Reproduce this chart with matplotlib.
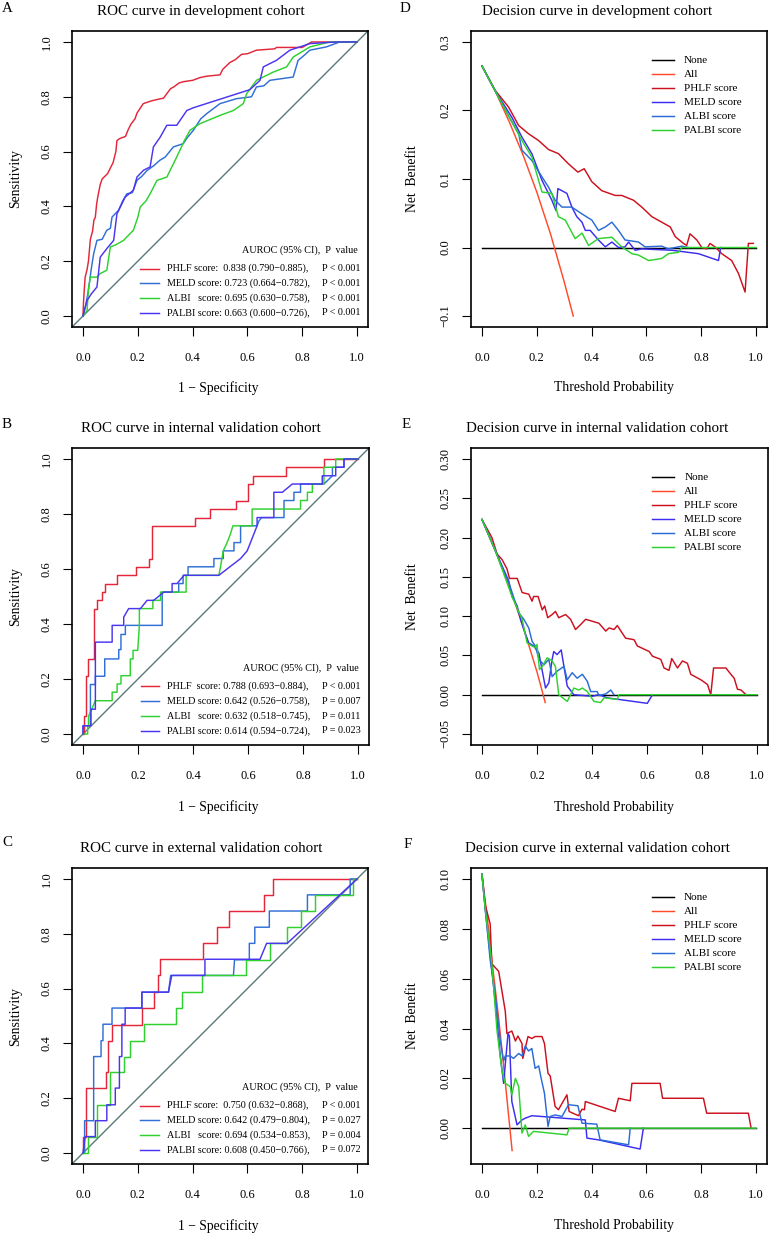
import matplotlib
matplotlib.use('Agg')
import matplotlib.pyplot as plt
from matplotlib.ticker import FuncFormatter

W, H = 770, 1235
plt.rcParams['font.family'] = ['Liberation Serif', 'DejaVu Serif']
plt.rcParams['axes.linewidth'] = 1.2

# ---------------- ROC data (1 - specificity, sensitivity) ----------------
# development cohort
a_phlf_x = [0, 0.002, 0.005, 0.008, 0.01, 0.015, 0.02, 0.027, 0.035, 0.04, 0.045, 0.05, 0.055, 0.063, 0.07, 0.08,
            0.09, 0.1, 0.11, 0.115, 0.12, 0.124, 0.13, 0.14, 0.155, 0.165, 0.175, 0.19, 0.197, 0.21, 0.22, 0.235,
            0.25, 0.27, 0.294, 0.305, 0.32, 0.33, 0.35, 0.366, 0.4, 0.427, 0.45, 0.5, 0.51, 0.536, 0.555, 0.579,
            0.6, 0.633, 0.7, 0.706, 0.8, 0.834, 1.0]
a_phlf_y = [0, 0.05, 0.1, 0.142, 0.15, 0.17, 0.2, 0.28, 0.31, 0.35, 0.36, 0.41, 0.44, 0.48, 0.5, 0.51,
            0.52, 0.54, 0.56, 0.58, 0.6, 0.64, 0.645, 0.65, 0.655, 0.68, 0.7, 0.72, 0.74, 0.76, 0.775, 0.78,
            0.785, 0.79, 0.795, 0.81, 0.83, 0.835, 0.85, 0.855, 0.86, 0.87, 0.875, 0.88, 0.9, 0.925, 0.935, 0.955,
            0.957, 0.97, 0.975, 0.98, 0.98, 1.0, 1.0]
a_meld_x = [0, 0.01, 0.02, 0.03, 0.039, 0.051, 0.07, 0.087, 0.1, 0.106, 0.13, 0.145, 0.16, 0.18, 0.197, 0.215,
            0.233, 0.26, 0.28, 0.3, 0.33, 0.366, 0.38, 0.403, 0.43, 0.451, 0.48, 0.5, 0.56, 0.615, 0.633, 0.66,
            0.682, 0.767, 0.785, 0.8, 0.828, 0.888, 0.937, 1.0]
a_meld_y = [0, 0.04, 0.094, 0.17, 0.227, 0.276, 0.28, 0.313, 0.32, 0.361, 0.386, 0.42, 0.446, 0.45, 0.495, 0.51,
            0.53, 0.55, 0.568, 0.58, 0.617, 0.629, 0.65, 0.678, 0.72, 0.738, 0.76, 0.775, 0.793, 0.8, 0.836, 0.84,
            0.86, 0.872, 0.933, 0.945, 0.97, 0.982, 1.0, 1.0]
a_albi_x = [0, 0.015, 0.02, 0.027, 0.051, 0.063, 0.087, 0.095, 0.1, 0.12, 0.148, 0.184, 0.2, 0.209, 0.23, 0.245,
            0.27, 0.306, 0.342, 0.37, 0.391, 0.427, 0.5, 0.549, 0.585, 0.597, 0.633, 0.694, 0.743, 0.767, 0.828,
            0.9, 1.0]
a_albi_y = [0, 0.02, 0.1, 0.142, 0.142, 0.155, 0.167, 0.22, 0.252, 0.26, 0.276, 0.313, 0.36, 0.398, 0.42, 0.446,
            0.495, 0.507, 0.58, 0.64, 0.678, 0.702, 0.732, 0.75, 0.775, 0.811, 0.86, 0.89, 0.909, 0.945, 0.982,
            1.0, 1.0]
a_palbi_x = [0, 0.015, 0.03, 0.051, 0.063, 0.087, 0.112, 0.124, 0.154, 0.184, 0.197, 0.221, 0.245, 0.257, 0.282,
             0.306, 0.342, 0.379, 0.403, 0.609, 0.646, 0.658, 0.706, 0.755, 0.828, 0.925, 1.0]
a_palbi_y = [0, 0.057, 0.08, 0.106, 0.215, 0.246, 0.276, 0.373, 0.434, 0.459, 0.507, 0.532, 0.544, 0.617, 0.653,
             0.696, 0.696, 0.75, 0.76, 0.826, 0.86, 0.909, 0.933, 0.97, 0.994, 1.0, 1.0]

# internal validation cohort
b_phlf_x = [0, 0.002, 0.002, 0.011, 0.011, 0.018, 0.018, 0.039, 0.039, 0.051, 0.051, 0.069, 0.069, 0.081, 0.081,
            0.124, 0.124, 0.193, 0.193, 0.241, 0.241, 0.251, 0.251, 0.409, 0.409, 0.461, 0.461, 0.558, 0.558, 0.601,
            0.601, 0.618, 0.618, 0.739, 0.739, 0.876, 0.876, 1.0]
b_phlf_y = [0, 0, 0.064, 0.064, 0.21, 0.21, 0.273, 0.273, 0.456, 0.456, 0.486, 0.486, 0.516, 0.516, 0.547,
            0.547, 0.577, 0.577, 0.608, 0.608, 0.635, 0.635, 0.758, 0.758, 0.787, 0.787, 0.82, 0.82, 0.849, 0.849,
            0.909, 0.909, 0.939, 0.939, 0.97, 0.97, 1.0, 1.0]
b_meld_x = [0, 0, 0.027, 0.027, 0.045, 0.045, 0.079, 0.079, 0.13, 0.13, 0.138, 0.138, 0.154, 0.154, 0.288, 0.288,
            0.348, 0.348, 0.364, 0.364, 0.382, 0.382, 0.476, 0.476, 0.51, 0.51, 0.549, 0.549, 0.573, 0.573, 0.633,
            0.64, 0.649, 0.731, 0.731, 0.767, 0.767, 0.791, 0.791, 0.876, 0.907, 0.907, 0.949, 0.949, 1.0]
b_meld_y = [0, 0.03, 0.03, 0.18, 0.18, 0.21, 0.21, 0.273, 0.273, 0.307, 0.307, 0.362, 0.362, 0.395, 0.395, 0.516,
            0.516, 0.547, 0.547, 0.577, 0.577, 0.608, 0.608, 0.638, 0.638, 0.666, 0.666, 0.696, 0.696, 0.757, 0.757,
            0.775, 0.787, 0.787, 0.849, 0.849, 0.879, 0.879, 0.909, 0.909, 0.939, 0.97, 0.97, 1.0, 1.0]
b_albi_x = [0, 0.017, 0.017, 0.02, 0.02, 0.045, 0.106, 0.106, 0.124, 0.124, 0.138, 0.138, 0.172, 0.172, 0.182,
            0.182, 0.199, 0.205, 0.205, 0.254, 0.254, 0.282, 0.282, 0.375, 0.375, 0.494, 0.5, 0.51, 0.524, 0.536,
            0.545, 0.615, 0.615, 0.791, 0.791, 0.816, 0.816, 0.834, 0.834, 0.876, 0.876, 0.919, 0.919, 1.0]
b_albi_y = [0, 0, 0.03, 0.03, 0.064, 0.121, 0.121, 0.152, 0.152, 0.182, 0.182, 0.212, 0.212, 0.273, 0.273,
            0.304, 0.304, 0.395, 0.456, 0.456, 0.486, 0.486, 0.516, 0.516, 0.577, 0.577, 0.608, 0.666, 0.696, 0.727,
            0.757, 0.757, 0.818, 0.818, 0.849, 0.849, 0.879, 0.879, 0.909, 0.909, 0.97, 0.97, 1.0, 1.0]
b_palbi_x = [0, 0, 0.029, 0.029, 0.045, 0.045, 0.106, 0.106, 0.148, 0.148, 0.166, 0.209, 0.233, 0.257, 0.294,
             0.324, 0.324, 0.342, 0.367, 0.494, 0.573, 0.597, 0.609, 0.633, 0.633, 0.694, 0.694, 0.725, 0.761, 0.87,
             0.87, 0.919, 0.919, 0.949, 0.949, 1.0]
b_palbi_y = [0, 0.03, 0.03, 0.09, 0.09, 0.334, 0.334, 0.395, 0.395, 0.425, 0.456, 0.456, 0.486, 0.486, 0.516,
             0.516, 0.547, 0.547, 0.577, 0.577, 0.638, 0.666, 0.696, 0.757, 0.787, 0.787, 0.879, 0.879, 0.909, 0.909,
             0.939, 0.939, 0.97, 0.97, 1.0, 1.0]

# external validation cohort
c_phlf_x = [0, 0, 0.012, 0.012, 0.085, 0.085, 0.093, 0.093, 0.106, 0.106, 0.215, 0.215, 0.26, 0.26, 0.272, 0.272,
            0.282, 0.282, 0.439, 0.439, 0.488, 0.488, 0.534, 0.534, 0.66, 0.66, 0.694, 0.694, 1.0]
c_phlf_y = [0, 0.06, 0.06, 0.237, 0.237, 0.295, 0.295, 0.41, 0.41, 0.468, 0.468, 0.529, 0.529, 0.587, 0.587, 0.648,
            0.648, 0.707, 0.707, 0.765, 0.765, 0.824, 0.824, 0.883, 0.883, 0.942, 0.942, 1.0, 1.0]
c_meld_x = [0, 0.006, 0.006, 0.039, 0.039, 0.066, 0.066, 0.073, 0.073, 0.106, 0.106, 0.215, 0.215, 0.312, 0.32,
            0.549, 0.553, 0.607, 0.607, 0.627, 0.627, 0.68, 0.68, 0.819, 0.819, 0.975, 0.975, 1.0]
c_meld_y = [0, 0, 0.118, 0.118, 0.352, 0.352, 0.41, 0.41, 0.47, 0.47, 0.529, 0.529, 0.587, 0.587, 0.648,
            0.648, 0.705, 0.705, 0.765, 0.765, 0.824, 0.824, 0.883, 0.883, 0.942, 0.942, 1.0, 1.0]
c_albi_x = [0, 0.017, 0.017, 0.051, 0.051, 0.1, 0.1, 0.148, 0.148, 0.172, 0.172, 0.221, 0.221, 0.34, 0.34, 0.36,
            0.36, 0.433, 0.433, 0.595, 0.595, 0.684, 0.684, 0.745, 0.745, 0.794, 0.794, 0.846, 0.846, 0.985, 0.985,
            1.0]
c_albi_y = [0, 0, 0.06, 0.06, 0.176, 0.176, 0.295, 0.295, 0.352, 0.352, 0.41, 0.41, 0.47, 0.47, 0.529, 0.529,
            0.587, 0.587, 0.648, 0.648, 0.705, 0.705, 0.765, 0.765, 0.824, 0.824, 0.883, 0.883, 0.942, 0.942, 1.0,
            1.0]
c_palbi_x = [0, 0.008, 0.045, 0.045, 0.087, 0.087, 0.118, 0.118, 0.133, 0.133, 0.142, 0.142, 0.154, 0.154, 0.215,
             0.215, 0.312, 0.324, 0.445, 0.445, 0.646, 0.67, 0.745, 1.0]
c_palbi_y = [0, 0.06, 0.06, 0.118, 0.118, 0.176, 0.176, 0.237, 0.237, 0.352, 0.352, 0.47, 0.47, 0.529, 0.529,
             0.587, 0.587, 0.648, 0.648, 0.707, 0.707, 0.765, 0.765, 1.0]

a_labels = ['PHLF score:  0.838 (0.790\u22120.885),', 'MELD score: 0.723 (0.664\u22120.782),',
            'ALBI   score: 0.695 (0.630\u22120.758),', 'PALBI score: 0.663 (0.600\u22120.726),']
a_pvals = ['P < 0.001', 'P < 0.001', 'P < 0.001', 'P < 0.001']
b_labels = ['PHLF  score: 0.788 (0.693\u22120.884),', 'MELD score: 0.642 (0.526\u22120.758),',
            'ALBI   score: 0.632 (0.518\u22120.745),', 'PALBI score: 0.614 (0.594\u22120.724),']
b_pvals = ['P < 0.001', 'P = 0.007', 'P = 0.011', 'P = 0.023']
c_labels = ['PHLF score:  0.750 (0.632\u22120.868),', 'MELD score: 0.642 (0.479\u22120.804),',
            'ALBI   score: 0.694 (0.534\u22120.853),', 'PALBI score: 0.608 (0.450\u22120.766),']
c_pvals = ['P < 0.001', 'P = 0.027', 'P = 0.004', 'P = 0.072']

# ---------------- decision curve data (threshold, net benefit) ----------------
dca_names = ['None', 'All', 'PHLF score', 'MELD score', 'ALBI score', 'PALBI score']
none_x = [0.0, 1.0]
none_y = [0.0, 0.0]

d_all_x = [0, 0.05, 0.1, 0.15, 0.2, 0.25, 0.3, 0.333]
d_all_y = [0.265, 0.227, 0.183, 0.135, 0.081, 0.020, -0.050, -0.100]
d_phlf_x = [0, 0.049, 0.097, 0.134, 0.17, 0.207, 0.243, 0.279, 0.316, 0.35, 0.373, 0.401, 0.437, 0.486, 0.51,
            0.553, 0.583, 0.62, 0.656, 0.687, 0.705, 0.735, 0.747, 0.759, 0.784, 0.802, 0.82, 0.832, 0.85, 0.875,
            0.911, 0.936, 0.96, 0.972, 0.99]
d_phlf_y = [0.265, 0.229, 0.205, 0.178, 0.166, 0.156, 0.143, 0.137, 0.122, 0.11, 0.115, 0.096, 0.083, 0.076, 0.076,
            0.069, 0.059, 0.045, 0.037, 0.03, 0.016, 0.006, 0.003, 0.02, 0.011, 0.0, -0.002, 0.006, 0.001, -0.009,
            -0.019, -0.038, -0.065, 0.006, 0.006]
d_meld_x = [0, 0.049, 0.109, 0.146, 0.182, 0.219, 0.255, 0.27, 0.277, 0.31, 0.328, 0.346, 0.365, 0.377, 0.395,
            0.425, 0.45, 0.474, 0.498, 0.522, 0.535, 0.559, 0.583, 0.693, 0.79, 0.863, 0.871]
d_meld_y = [0.265, 0.228, 0.19, 0.161, 0.137, 0.098, 0.069, 0.054, 0.086, 0.079, 0.059, 0.045, 0.037, 0.025, 0.025,
            0.011, 0.001, 0.008, 0.0, 0.001, 0.008, -0.004, -0.002, -0.004, -0.009, -0.019, 0.0]
d_albi_x = [0, 0.049, 0.1, 0.134, 0.146, 0.182, 0.219, 0.243, 0.267, 0.292, 0.328, 0.365, 0.401, 0.425, 0.45,
            0.474, 0.498, 0.522, 0.571, 0.595, 0.656, 0.68, 0.729, 0.753]
d_albi_y = [0.265, 0.228, 0.19, 0.166, 0.142, 0.127, 0.103, 0.088, 0.069, 0.059, 0.059, 0.049, 0.04, 0.025, 0.03,
            0.037, 0.025, 0.011, 0.008, 0.001, 0.002, -0.002, 0.002, 0.0]
d_palbi_x = [0, 0.049, 0.1, 0.146, 0.182, 0.219, 0.255, 0.279, 0.304, 0.34, 0.365, 0.389, 0.425, 0.474, 0.51,
             0.547, 0.571, 0.608, 0.656, 0.68, 0.717, 0.729, 1.0]
d_palbi_y = [0.265, 0.228, 0.19, 0.156, 0.132, 0.081, 0.079, 0.045, 0.04, 0.013, 0.021, 0.003, 0.013, 0.015, 0.001,
             -0.009, -0.011, -0.019, -0.016, -0.009, -0.007, 0.0, 0.0]

e_all_x = [0, 0.05, 0.1, 0.15, 0.2, 0.23]
e_all_y = [0.223, 0.182, 0.137, 0.086, 0.029, -0.010]
e_phlf_x = [0, 0.036, 0.055, 0.073, 0.091, 0.1, 0.128, 0.146, 0.17, 0.182, 0.188, 0.204, 0.219, 0.228, 0.239,
            0.255, 0.267, 0.279, 0.304, 0.322, 0.34, 0.358, 0.377, 0.425, 0.45, 0.462, 0.48, 0.492, 0.522, 0.553,
            0.565, 0.608, 0.62, 0.65, 0.662, 0.68, 0.69, 0.711, 0.729, 0.747, 0.759, 0.796, 0.82, 0.832, 0.842,
            0.887, 0.905, 0.917, 0.929, 0.942, 0.96]
e_phlf_y = [0.223, 0.2, 0.179, 0.172, 0.16, 0.148, 0.148, 0.13, 0.128, 0.119, 0.125, 0.125, 0.108, 0.113, 0.098,
            0.102, 0.106, 0.098, 0.102, 0.096, 0.083, 0.089, 0.096, 0.091, 0.081, 0.085, 0.083, 0.088, 0.072, 0.07,
            0.062, 0.055, 0.049, 0.045, 0.034, 0.031, 0.046, 0.034, 0.043, 0.04, 0.026, 0.019, 0.013, 0.0, 0.034,
            0.034, 0.026, 0.021, 0.007, 0.006, 0.0]
e_meld_x = [0, 0.05, 0.097, 0.109, 0.128, 0.14, 0.152, 0.17, 0.188, 0.207, 0.216, 0.231, 0.243, 0.255, 0.261,
            0.273, 0.288, 0.298, 0.31, 0.334, 0.401, 0.425, 0.456, 0.601, 0.62]
e_meld_y = [0.223, 0.182, 0.145, 0.125, 0.113, 0.096, 0.083, 0.066, 0.062, 0.053, 0.036, 0.0085, 0.015, 0.045,
            0.055, 0.051, 0.057, 0.036, 0.011, 0.0, -0.002, 0.0, -0.004, -0.011, 0.0]
e_albi_x = [0, 0.05, 0.1, 0.134, 0.152, 0.17, 0.182, 0.194, 0.207, 0.225, 0.243, 0.255, 0.273, 0.298, 0.31, 0.328,
            0.346, 0.365, 0.383, 0.395, 0.419, 0.425, 0.45, 0.468, 0.48]
e_albi_y = [0.223, 0.182, 0.14, 0.104, 0.096, 0.085, 0.068, 0.062, 0.045, 0.038, 0.045, 0.023, 0.03, 0.036, 0.019,
            0.028, 0.021, 0.026, 0.017, 0.004, 0.004, -0.001, 0.001, 0.006, 0.0]
e_palbi_x = [0, 0.05, 0.109, 0.146, 0.164, 0.182, 0.194, 0.2, 0.209, 0.219, 0.237, 0.255, 0.267, 0.279, 0.31,
             0.334, 0.352, 0.365, 0.383, 0.407, 0.431, 0.444, 0.492, 0.498, 1.0]
e_palbi_y = [0.223, 0.182, 0.125, 0.096, 0.066, 0.062, 0.06, 0.064, 0.032, 0.036, 0.047, 0.043, 0.036, 0.0,
             -0.0085, 0.0085, 0.006, 0.0085, 0.004, -0.0085, -0.01, -0.004, -0.006, 0.0, 0.0]

f_all_x = [0, 0.02, 0.04, 0.06, 0.08, 0.1, 0.11]
f_all_y = [0.102, 0.084, 0.064, 0.045, 0.024, 0.002, -0.009]
f_phlf_x = [0, 0.012, 0.03, 0.036, 0.061, 0.073, 0.085, 0.091, 0.109, 0.122, 0.131, 0.146, 0.149, 0.168, 0.182,
            0.194, 0.219, 0.228, 0.241, 0.249, 0.267, 0.279, 0.31, 0.318, 0.352, 0.365, 0.374, 0.377, 0.486, 0.498,
            0.541, 0.547, 0.65, 0.659, 0.808, 0.82, 0.972, 0.982]
f_phlf_y = [0.102, 0.0896, 0.082, 0.066, 0.063, 0.055, 0.047, 0.038, 0.039, 0.035, 0.037, 0.034, 0.028, 0.0368,
            0.036, 0.0368, 0.0368, 0.034, 0.022, 0.021, 0.0087, 0.0074, 0.0134, 0.0067, 0.005, 0.0076, 0.0074,
            0.0107, 0.0067, 0.012, 0.011, 0.018, 0.018, 0.012, 0.012, 0.006, 0.006, 0.0]
f_meld_x = [0, 0.012, 0.03, 0.049, 0.067, 0.079, 0.095, 0.1, 0.109, 0.128, 0.146, 0.158, 0.182, 0.377, 0.383,
            0.425, 0.577, 0.589]
f_meld_y = [0.102, 0.088, 0.07, 0.05, 0.029, 0.018, 0.038, 0.037, 0.0107, 0.0013, 0.0033, 0.004, 0.005, 0.0033,
            -0.004, -0.0047, -0.0084, 0.0]
f_albi_x = [0, 0.012, 0.03, 0.049, 0.067, 0.079, 0.085, 0.103, 0.115, 0.134, 0.146, 0.158, 0.17, 0.182, 0.194,
            0.207, 0.216, 0.228, 0.241, 0.249, 0.267, 0.292, 0.316, 0.35, 0.365, 0.419, 0.431, 0.535, 0.541]
f_albi_y = [0.102, 0.088, 0.0675, 0.053, 0.035, 0.027, 0.029, 0.029, 0.028, 0.03, 0.029, 0.033, 0.031, 0.032,
            0.024, 0.025, 0.02, 0.014, 0.0007, 0.0047, 0.0053, 0.0047, 0.0094, 0.009, 0.002, 0.0016, -0.0047,
            -0.0067, 0.0]
f_palbi_x = [0, 0.012, 0.036, 0.055, 0.073, 0.085, 0.103, 0.109, 0.122, 0.134, 0.146, 0.158, 0.17, 0.188, 0.31,
             0.318, 1.0]
f_palbi_y = [0.102, 0.088, 0.066, 0.039, 0.023, 0.018, 0.0167, 0.0134, 0.02, 0.0167, -0.002, 0.0013, -0.0033,
             -0.0013, -0.0027, 0.0, 0.0]

# colours
roc_cols = ['#E3263A', '#2F6FD6', '#2ED12E', '#4A35F0']
dca_cols = ['black', '#FF4A2A', '#CC101E', '#3C2DF0', '#2A6BD8', '#2ED12E']

fig = plt.figure(figsize=(W / 100, H / 100), dpi=100)


def panel(left, top, size=296):
    return fig.add_axes([left / W, 1 - (top + size) / H, size / W, size / H])


def fmt(nd):
    return FuncFormatter(lambda v, _: f'{v:.{nd}f}'.replace('-', '\u2212'))


def style(ax, ylim, yticks, nd):
    ax.set_xlim(-0.04, 1.04)
    ax.set_ylim(*ylim)
    ax.set_xticks([0, 0.2, 0.4, 0.6, 0.8, 1.0])
    ax.set_yticks(yticks)
    ax.xaxis.set_major_formatter(fmt(1))
    ax.yaxis.set_major_formatter(fmt(nd))
    ax.tick_params(direction='out', length=6.5, width=0.8, labelsize=9)
    ax.tick_params(axis='x', pad=11.5)
    ax.tick_params(axis='y', pad=7.5, labelrotation=90)
    for t in ax.get_yticklabels():
        t.set_va('center')


def roc_panel(ax, curves, labels, pvals, xlab_y):
    ax.axline((0, 0), (1, 1), color='#5A7A7A', lw=1.0)
    for (xs, ys), c in zip(curves, roc_cols):
        ax.plot(xs, ys, color=c, lw=1.05)
    style(ax, (-0.04, 1.04), [0, 0.2, 0.4, 0.6, 0.8, 1.0], 1)
    ax.text(0.966, 0.259, 'AUROC (95% CI),  P  value', transform=ax.transAxes,
            ha='right', va='center', fontsize=7.3)
    for i, (lab, p, c) in enumerate(zip(labels, pvals, roc_cols)):
        yy = 0.197 - i * 0.0497
        ax.plot([0.231, 0.293], [yy, yy], transform=ax.transAxes, color=c, lw=1.05)
        ax.text(0.321, yy, lab, transform=ax.transAxes, ha='left', va='center', fontsize=7.3)
        ax.text(0.843, yy, p, transform=ax.transAxes, ha='left', va='center', fontsize=7.3)
    ax.text(0.493, xlab_y, '1 \u2212 Specificity', transform=ax.transAxes,
            ha='center', va='center', fontsize=9.8)
    ax.text(-0.19, 0.5, 'Sensitivity', transform=ax.transAxes, rotation=90,
            ha='center', va='center', fontsize=9.8)


def dca_panel(ax, curves, ylim, yticks, nd, xlab_y):
    for (xs, ys), c in zip(curves, dca_cols):
        ax.plot(xs, ys, color=c, lw=1.05)
    style(ax, ylim, yticks, nd)
    for i, (name, c) in enumerate(zip(dca_names, dca_cols)):
        yy = 0.902 - i * 0.0473
        ax.plot([0.611, 0.685], [yy, yy], transform=ax.transAxes, color=c, lw=1.05)
        ax.text(0.718, yy, name, transform=ax.transAxes, ha='left', va='center', fontsize=8)
    ax.text(0.483, xlab_y, 'Threshold Probability', transform=ax.transAxes,
            ha='center', va='center', fontsize=9.8)
    ax.text(-0.196, 0.5, 'Net  Benefit', transform=ax.transAxes, rotation=90,
            ha='center', va='center', fontsize=9.8)


axA = panel(72, 31)
axB = panel(72, 448, 297)
axC = panel(72, 868)
axD = panel(471, 31)
axE = panel(471, 448, 297)
axF = panel(471, 868)

roc_panel(axA, [(a_phlf_x, a_phlf_y), (a_meld_x, a_meld_y), (a_albi_x, a_albi_y), (a_palbi_x, a_palbi_y)],
          a_labels, a_pvals, -0.206)
roc_panel(axB, [(b_phlf_x, b_phlf_y), (b_meld_x, b_meld_y), (b_albi_x, b_albi_y), (b_palbi_x, b_palbi_y)],
          b_labels, b_pvals, -0.209)
roc_panel(axC, [(c_phlf_x, c_phlf_y), (c_meld_x, c_meld_y), (c_albi_x, c_albi_y), (c_palbi_x, c_palbi_y)],
          c_labels, c_pvals, -0.209)

dca_panel(axD, [(none_x, none_y), (d_all_x, d_all_y), (d_phlf_x, d_phlf_y), (d_meld_x, d_meld_y),
                (d_albi_x, d_albi_y), (d_palbi_x, d_palbi_y)],
          (-0.116, 0.316), [-0.1, 0.0, 0.1, 0.2, 0.3], 1, -0.206)
dca_panel(axE, [(none_x, none_y), (e_all_x, e_all_y), (e_phlf_x, e_phlf_y), (e_meld_x, e_meld_y),
                (e_albi_x, e_albi_y), (e_palbi_x, e_palbi_y)],
          (-0.064, 0.314), [-0.05, 0.0, 0.05, 0.10, 0.15, 0.20, 0.25, 0.30], 2, -0.209)
dca_panel(axF, [(none_x, none_y), (f_all_x, f_all_y), (f_phlf_x, f_phlf_y), (f_meld_x, f_meld_y),
                (f_albi_x, f_albi_y), (f_palbi_x, f_palbi_y)],
          (-0.0144, 0.1045), [0.0, 0.02, 0.04, 0.06, 0.08, 0.10], 2, -0.209)

titles = [('A', 'ROC curve in development cohort', 7, 201, 8, 11),
          ('B', 'ROC curve in internal validation cohort', 7, 201, 425, 429),
          ('C', 'ROC curve in external validation cohort', 7, 201, 843, 848),
          ('D', 'Decision curve in development cohort', 405, 597, 8, 11),
          ('E', 'Decision curve in internal validation cohort', 406, 597, 425, 429),
          ('F', 'Decision curve in external validation cohort', 408, 597, 845, 848)]
for letter, title, lx, tx, ly, ty in titles:
    fig.text(lx / W, 1 - ly / H, letter, ha='center', va='center', fontsize=10.8)
    fig.text(tx / W, 1 - ty / H, title, ha='center', va='center', fontsize=10.8)

fig.savefig('out.png', dpi=100)
